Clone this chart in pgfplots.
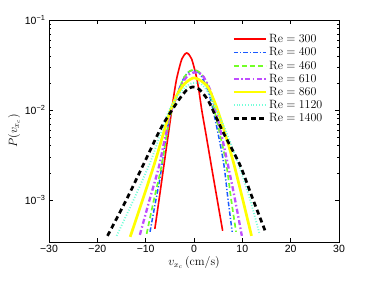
\documentclass[border=0pt]{standalone}
\usepackage{pgfplots}
\pgfplotsset{compat=1.18}
\usepackage{fontspec}
\newfontfamily\helv{Liberation Sans}
\definecolor{cblue}{rgb}{0.1,0.35,1}
\definecolor{cgreen}{rgb}{0.45,1,0.15}
\definecolor{cpurple}{rgb}{0.75,0.3,1}
\definecolor{cyellow}{rgb}{1,1,0}
\definecolor{ccyan}{rgb}{0.45,1,0.85}
\begin{document}
\begin{tikzpicture}
\begin{axis}[
  scale only axis, width=290pt, height=222pt,
  ymode=log, xmin=-30, xmax=30, ymin=3.4e-4, ymax=0.1,
  xtick={-30,-20,-10,0,10,20,30},
  xticklabels={−30,−20,−10,0,10,20,30},
  ytick={0.001,0.01,0.1},
  yticklabels={{10\textsuperscript{−3}},{10\textsuperscript{−2}},{10\textsuperscript{−1}}},
  tick label style={font=\helv\fontsize{10.5}{12}\selectfont},
  tick align=inside, major tick length=4pt, minor tick length=2pt,
  axis line style={line width=0.6pt}, every tick/.style={line width=0.5pt, black},
  xlabel={$v_{x_c}\,(\mathrm{cm/s})$}, ylabel={$P(v_{x_c})$},
  label style={font=\large},
  xlabel style={yshift=3pt}, ylabel style={yshift=-2pt},
  legend style={draw=none, fill=none, at={(0.95,0.945)}, anchor=north east,
    inner sep=0pt, row sep=-0.5pt, font=\large},
  legend cell align=left,
  legend image code/.code={\draw[#1] (0pt,0pt) -- (32pt,0pt);},
  every axis plot/.append style={smooth, tension=0.45},
]
\addplot[red, line width=1.6pt] table {
-8.1 0.000476
-7.0 0.00123
-5.6 0.00419
-4.6 0.0100
-4.0 0.01668
-3.5 0.0234
-2.5 0.0370
-1.5 0.0430
-0.5 0.0370
0.5 0.0234
1.0 0.01668
1.6 0.0100
2.5 0.00528
3.7 0.00221
4.8 0.00101
5.93 0.000453
};
\addlegendentry{$\mathrm{Re}=300$}
\addplot[cblue, line width=1.5pt, dash pattern=on 4.5pt off 2pt on 1.2pt off 2pt] table {
-9.1 0.000441
-8.0 0.000926
-7.0 0.00180
-6.0 0.0042
-5.0 0.00858
-3.5 0.01506
-2.0 0.02326
-1.0 0.02678
-0.2 0.02748
0.7 0.02678
1.5 0.02385
3.0 0.01585
4.4 0.00774
6.1 0.00264
7.0 0.001052
7.9 0.000441
};
\addlegendentry{$\mathrm{Re}=400$}
\addplot[cgreen, line width=1.7pt, dash pattern=on 5pt off 3pt] table {
-9.8 0.000419
-8.3 0.001
-6.8 0.00227
-5.0 0.00815
-3.5 0.01468
-2.0 0.02326
-0.9 0.0270
-0.1 0.02783
0.8 0.0270
2.0 0.02326
3.3 0.01585
4.7 0.00774
6.6 0.00264
7.7 0.001
8.7 0.000441
};
\addlegendentry{$\mathrm{Re}=460$}
\addplot[cpurple, line width=2.3pt, dash pattern=on 5pt off 2.5pt on 1.5pt off 2.5pt] table {
-11.2 0.000408
-9.2 0.001
-7.17 0.00245
-5.1 0.00836
-3.5 0.01431
-2.0 0.02154
-0.8 0.0254
0.4 0.02610
1.3 0.0254
2.0 0.02326
3.5 0.01585
5.0 0.00774
6.9 0.00264
8.5 0.001
9.9 0.000398
};
\addlegendentry{$\mathrm{Re}=610$}
\addplot[cyellow, line width=2.7pt] table {
-13.2 0.000388
-10.5 0.001052
-8.07 0.00264
-6.3 0.00555
-5.0 0.0095
-3.5 0.01468
-2.0 0.01945
-0.14 0.02267
1.5 0.0210
2.97 0.01756
4.5 0.01136
6.0 0.0065
8.14 0.00264
10.0 0.001052
11.9 0.000398
};
\addlegendentry{$\mathrm{Re}=860$}
\addplot[ccyan, line width=1.8pt, dash pattern=on 1pt off 1.8pt] table {
-16.0 0.000398
-12.5 0.001
-9.1 0.00258
-7.0 0.00528
-5.3 0.0095
-3.5 0.01395
-1.8 0.01801
-0.3 0.01995
1.5 0.0194
3.0 0.01545
4.5 0.01052
6.5 0.00599
9.17 0.00251
11.5 0.001052
13.5 0.00043
};
\addlegendentry{$\mathrm{Re}=1120$}
\addplot[black, line width=2.7pt, dash pattern=on 5pt off 3.5pt] table {
-17.9 0.000398
-14.0 0.001
-10.3 0.00258
-6.7 0.00648
-3.3 0.01259
-1.5 0.01668
-0.3 0.01801
1.0 0.01711
2.97 0.01259
6.0 0.00569
9.5 0.00245
12.0 0.00108
14.8 0.000441
};
\addlegendentry{$\mathrm{Re}=1400$}
\end{axis}
\pgfresetboundingbox
\path ([xshift=-49pt,yshift=-41pt]current axis.south west) rectangle ([xshift=34pt,yshift=20pt]current axis.north east);
\end{tikzpicture}
\end{document}
